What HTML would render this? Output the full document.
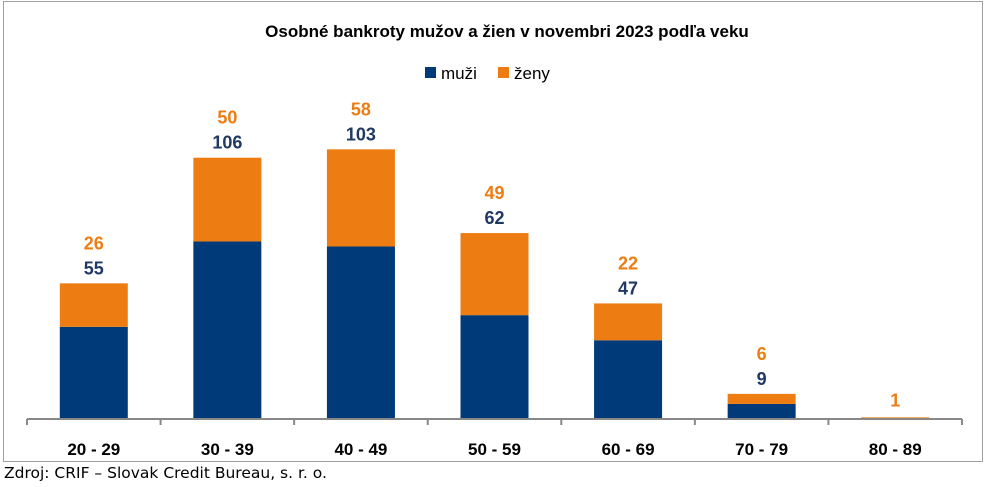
<!DOCTYPE html>
<html><head><meta charset="utf-8"><style>
body{margin:0;background:#fff;width:987px;height:487px;overflow:hidden;font-family:"Liberation Sans",sans-serif}
#frame{position:absolute;left:3px;top:1px;width:980px;height:461px;border:1px solid #a0a0a0;box-sizing:border-box}
#src{position:absolute;left:4px;top:464px;font-family:"DejaVu Sans",sans-serif;font-size:15.5px;color:#000}
</style></head><body>
<div id="frame"></div>
<svg id="chart" width="987" height="487" style="position:absolute;left:0;top:0">
<text x="507" y="37" text-anchor="middle" font-weight="bold" font-size="17">Osobné bankroty mužov a žien v novembri 2023 podľa veku</text>
<g>
<rect x="425" y="67" width="11" height="11" fill="#003a78"/>
<text x="441" y="79" font-size="17">muži</text>
<rect x="498" y="67" width="11" height="11" fill="#ed7d13"/>
<text x="514" y="79" font-size="17">ženy</text>
</g>
<g id="plot"></g>
</svg>
<div id="src">Zdroj: CRIF – Slovak Credit Bureau, s. r. o.</div>
<script>
const categories=["20 - 29","30 - 39","40 - 49","50 - 59","60 - 69","70 - 79","80 - 89"];
const men=[55,106,103,62,47,9,0];
const women=[26,50,58,49,22,6,1];
const NS="http://www.w3.org/2000/svg";
const g=document.getElementById('plot');
const x0=27,x1=962,y0=419,k=1.675,bw=68;
const cw=(x1-x0)/categories.length;
const xc=i=>x0+cw*(i+0.5);
const yv=v=>y0-v*k;
function mk(t,a){const e=document.createElementNS(NS,t);for(const n in a)e.setAttribute(n,a[n]);g.appendChild(e);return e;}
categories.forEach((c,i)=>{
  const cx=xc(i);
  const r1=mk('rect',{x:cx-bw/2,y:yv(men[i]),width:bw,height:men[i]*k,fill:'#003a78'});
  
  
  const r2=mk('rect',{x:cx-bw/2,y:yv(men[i]+women[i]),width:bw,height:women[i]*k,fill:'#ed7d13'});
  
  
  const top=yv(men[i]+women[i]);
  if(men[i]>0){
    const t=mk('text',{x:cx,y:top-9,'text-anchor':'middle','font-weight':'bold','font-size':'18',fill:'#1f3864'});
    t.textContent=men[i];
    
    
  }
  const t2=mk('text',{x:cx,y:top-(men[i]>0?34:11),'text-anchor':'middle','font-weight':'bold','font-size':'18',fill:'#ed7d13'});
  t2.textContent=women[i];
  
  
  const l=mk('text',{x:cx,y:455,'text-anchor':'middle','font-weight':'bold','font-size':'17'});
  l.textContent=c;
  
  
});
const ax=mk('line',{x1:x0,y1:y0,x2:x1,y2:y0,stroke:'#888','stroke-width':2});


for(let i=0;i<=categories.length;i++){
  const tk=mk('line',{x1:x0+cw*i,y1:y0,x2:x0+cw*i,y2:y0+6,stroke:'#888','stroke-width':2});
  
  
}
</script>
</body></html>
